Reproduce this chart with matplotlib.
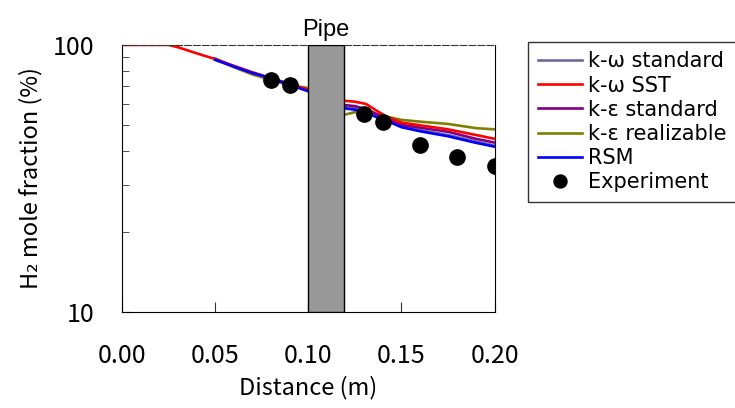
import matplotlib
matplotlib.use('Agg')
import matplotlib.pyplot as plt
import numpy as np
from matplotlib.ticker import LogLocator, NullFormatter, FixedLocator

plt.rcParams['font.family'] = ['Noto Sans CJK JP', 'DejaVu Sans']

# distance (m); NaN marks the break at the pipe
x_model = [0.05, 0.06, 0.07, 0.08, 0.09, 0.10, np.nan,
           0.119, 0.125, 0.131, 0.137, 0.142, 0.15, 0.16, 0.175, 0.19, 0.20]
x_sst = [0.0, 0.025, 0.03, 0.04] + x_model

kw_std = [88, 83, 78.5, 75, 71, 67.5, np.nan,
          58.5, 58.0, 56.5, 54.5, 52.5, 49.8, 48.0, 46.0, 43.5, 42.0]
kw_sst = [100, 100, 98, 93, 88.5, 83.5, 79, 75, 71.5, 68, np.nan,
          61.8, 61.3, 60.1, 56.5, 53.9, 51.2, 50.0, 48.3, 46.0, 44.5]
ke_std = [88, 83, 78.5, 75, 71, 67.5, np.nan,
          59.6, 59.0, 57.5, 55.0, 53.0, 50.2, 49.0, 47.3, 44.5, 43.1]
ke_real = [89, 82.5, 77.5, 74, 70.5, 69, np.nan,
           54.7, 56.0, 55.5, 54.5, 53.9, 52.4, 51.6, 50.6, 48.8, 48.3]
rsm = [88, 83, 78.5, 75, 71, 67, np.nan,
       57.9, 57.2, 55.8, 53.5, 52.0, 49.2, 47.5, 45.5, 43.0, 41.6]

x_exp = [0.08, 0.09, 0.13, 0.14, 0.16, 0.18, 0.20]
y_exp = [73.9, 70.8, 55.2, 51.5, 42.2, 38.1, 35.2]

pipe_x = (0.10, 0.119)

fig = plt.figure(figsize=(7.35, 4.08), dpi=100)
ax = fig.add_axes([0.166, 0.235, 0.507, 0.655])

ax.axvspan(*pipe_x, facecolor='#999999', edgecolor='black', lw=1.0, zorder=4)

lw = 1.9
ax.plot(x_model, ke_real, color='#808000', lw=lw, label='k-ε realizable', zorder=2)
ax.plot(x_model, kw_std, color='#6B6B9E', lw=lw, label='k-ω standard', zorder=2)
ax.plot(x_model, ke_std, color='#800080', lw=lw, label='k-ε standard', zorder=2)
ax.plot(x_sst, kw_sst, color='#FF0000', lw=lw, label='k-ω SST', zorder=2)
ax.plot(x_model, rsm, color='#0000FF', lw=lw, label='RSM', zorder=3)
ax.plot(x_exp, y_exp, 'o', color='black', ms=11, ls='none', label='Experiment', zorder=5)

ax.set_yscale('log')
ax.set_xlim(0, 0.2)
ax.set_ylim(10, 100)
ax.xaxis.set_major_locator(FixedLocator([0, 0.05, 0.10, 0.15, 0.20]))
ax.set_xticklabels(['0.00', '0.05', '0.10', '0.15', '0.20'])
ax.yaxis.set_major_locator(FixedLocator([10, 100]))
ax.set_yticklabels(['10', '100'])
ax.yaxis.set_minor_locator(LogLocator(base=10, subs=np.arange(2, 10)))
ax.yaxis.set_minor_formatter(NullFormatter())
ax.tick_params(axis='both', which='both', direction='in', top=False, right=False,
               labelsize=18, color='#333333')
ax.tick_params(axis='y', which='major', length=7, pad=20)
ax.tick_params(axis='y', which='minor', length=5)
ax.tick_params(axis='x', which='major', length=7, pad=22)

ax.spines['top'].set_linestyle((0, (6, 2)))
ax.spines['top'].set_color('#333333')

ax.set_xlabel('Distance (m)', fontsize=17, labelpad=5)
ax.set_ylabel('H₂ mole fraction (%)', fontsize=17, labelpad=7)

ax.text(sum(pipe_x) / 2, 1.015, 'Pipe', transform=ax.get_xaxis_transform(),
        ha='center', va='bottom', fontsize=17, family='Liberation Sans')

order = ['k-ω standard', 'k-ω SST', 'k-ε standard', 'k-ε realizable', 'RSM', 'Experiment']
h, l = ax.get_legend_handles_labels()
hd = dict(zip(l, h))
leg = fig.legend([hd[k] for k in order], order, loc='upper left',
                 bbox_to_anchor=(0.719, 0.897), frameon=True,
                 prop={'family': 'DejaVu Sans', 'size': 15},
                 fancybox=False, edgecolor='black', handlelength=2.1,
                 handletextpad=0.3, labelspacing=0.2, borderpad=0.45,
                 borderaxespad=0, markerscale=0.85)
leg.get_frame().set_linewidth(1.0)

fig.savefig('out.png', dpi=100)
